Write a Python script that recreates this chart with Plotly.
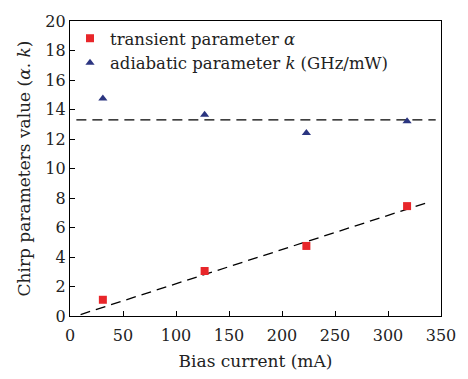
import plotly.graph_objects as go

current = [31, 127, 223, 318]
alpha = [1.1, 3.05, 4.75, 7.45]
k_vals = [14.75, 13.65, 12.4, 13.2]
fit_x = [10, 340]
fit_alpha = [0.1, 7.75]
k_mean_x = [6, 345]
k_mean = [13.3, 13.3]

font = "DejaVu Serif"
fig = go.Figure()
fig.add_trace(go.Scatter(x=fit_x, y=fit_alpha, mode="lines", showlegend=False,
                         line=dict(color="black", width=1.3, dash="10px,6px")))
fig.add_trace(go.Scatter(x=k_mean_x, y=k_mean, mode="lines", showlegend=False,
                         line=dict(color="black", width=1.3, dash="10px,6px")))
fig.add_trace(go.Scatter(x=current, y=alpha, mode="markers", name="transient parameter <i>α</i>",
                         marker=dict(symbol="square", size=8, color="#e8262a")))
fig.add_trace(go.Scatter(x=current, y=k_vals, mode="markers", name="adiabatic parameter <i>k</i> (GHz/mW)",
                         marker=dict(symbol="triangle-up", size=8, color="#2b3580")))

axis_common = dict(showline=True, linecolor="black", linewidth=1.2, mirror=True,
                   ticks="inside", ticklen=5, tickcolor="black", showgrid=False, zeroline=False,
                   tickfont=dict(family=font, size=16, color="#222"))
fig.update_xaxes(range=[0, 350], dtick=50, ticklabelstandoff=5,
                 title=dict(text="Bias current (mA)", font=dict(family=font, size=17, color="#222"), standoff=10), **axis_common)
fig.update_yaxes(range=[0, 20], dtick=2, title=dict(text="Chirp parameters value (<i>α</i>. <i>k</i>)", font=dict(family=font, size=17, color="#222"), standoff=10), **axis_common)
fig.update_layout(width=468, height=379, margin=dict(l=70, r=20, t=15, b=62),
                  paper_bgcolor="white", plot_bgcolor="white",
                  legend=dict(x=0.0, y=1.0, xanchor="left", yanchor="top", bgcolor="rgba(0,0,0,0)",
                              font=dict(family=font, size=16.5, color="#222"), tracegroupgap=0,
                              itemwidth=30))
fig.write_html("out.html")
